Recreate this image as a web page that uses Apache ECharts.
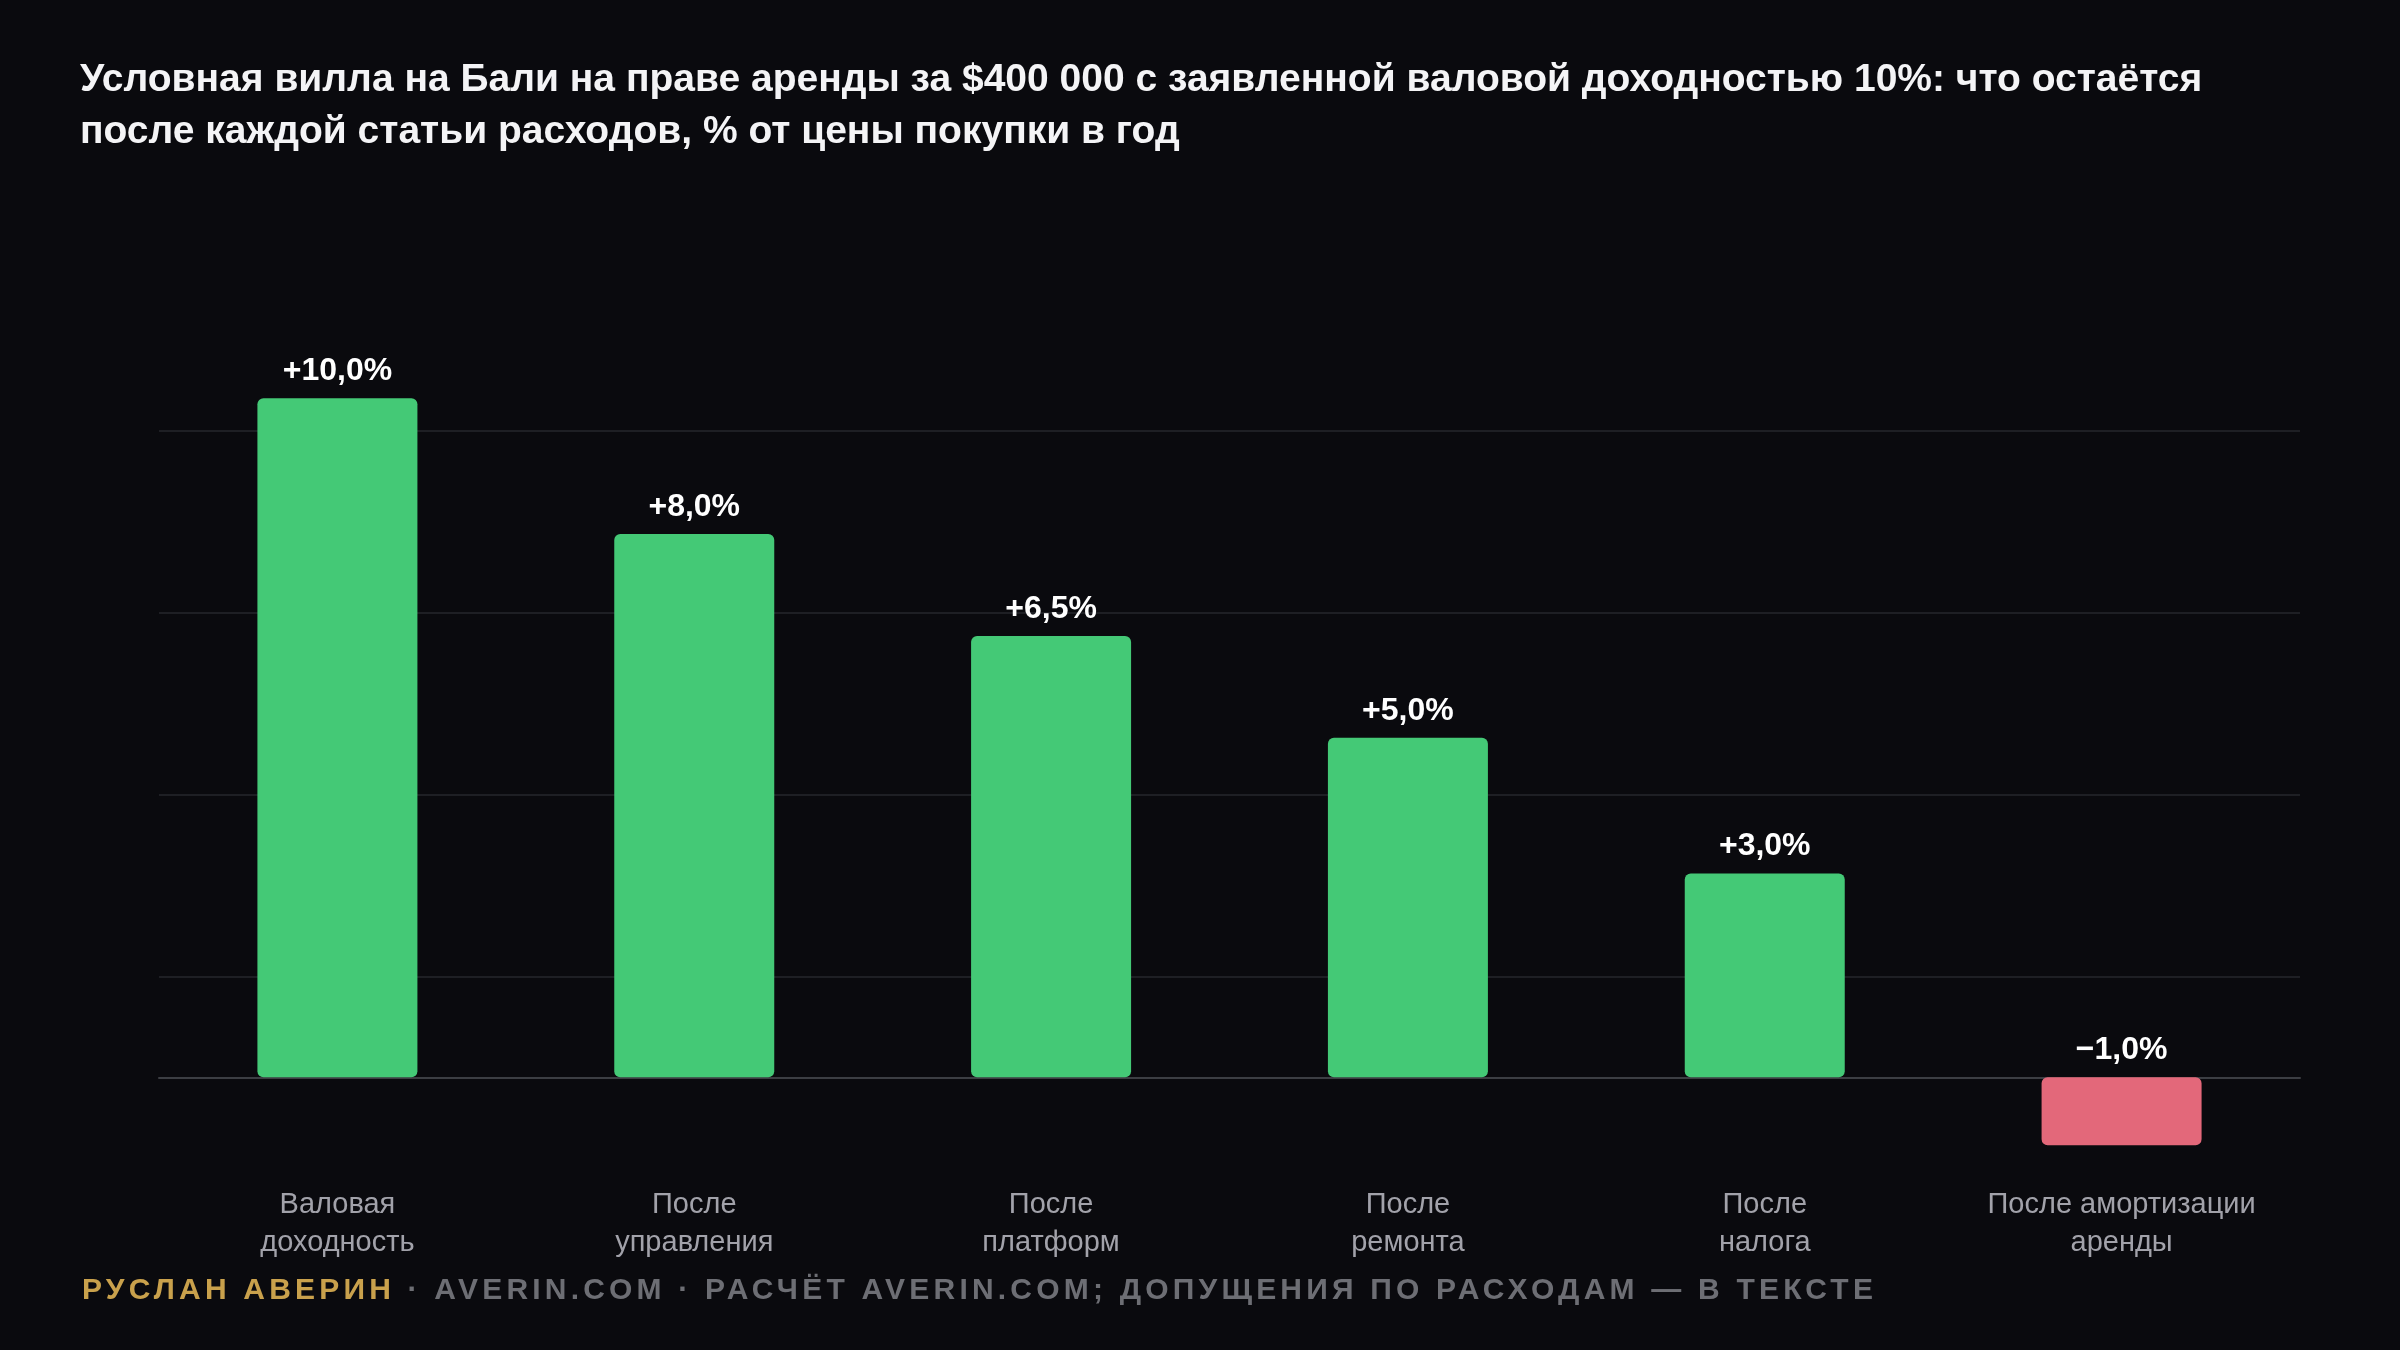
<!DOCTYPE html>
<html>
<head>
<meta charset="utf-8">
<script src="https://cdn.jsdelivr.net/npm/echarts@6/dist/echarts.min.js"></script>
<style>
html,body{margin:0;padding:0;background:#0a0a0e;}
#chart{width:2400px;height:1350px;}
</style>
</head>
<body>
<div id="chart"></div>
<script>
// ---- data ----
var categories = ['Валовая\nдоходность', 'После\nуправления', 'После\nплатформ', 'После\nремонта', 'После\nналога', 'После амортизации\nаренды'];
var values = [10.0, 8.0, 6.5, 5.0, 3.0, -1.0];
var titleText = 'Условная вилла на Бали на праве аренды за $400 000 с заявленной валовой доходностью 10%: что остаётся\nпосле каждой статьи расходов, % от цены покупки в год';
var footerAuthor = 'РУСЛАН АВЕРИН';
var footerRest = ' · AVERIN.COM · РАСЧЁТ AVERIN.COM; ДОПУЩЕНИЯ ПО РАСХОДАМ — В ТЕКСТЕ';

// letter-spacing for the tracked footer font (canvas text)
(function () {
  var P = CanvasRenderingContext2D.prototype;
  ['fillText', 'strokeText', 'measureText'].forEach(function (name) {
    var orig = P[name];
    P[name] = function () {
      if (this.font && this.font.indexOf('TrackedFooter') >= 0) {
        var prev = this.letterSpacing;
        this.letterSpacing = '4.2px';
        var r = orig.apply(this, arguments);
        this.letterSpacing = prev;
        return r;
      }
      return orig.apply(this, arguments);
    };
  });
})();

function fmt(v) {
  var s = Math.abs(v).toFixed(1).replace('.', ',');
  return (v < 0 ? '\u2212' : '+') + s + '%';
}

var chart = echarts.init(document.getElementById('chart'), null, {renderer: 'canvas'});
var FONT = '"Liberation Sans", Arial, sans-serif';
var FOOTFONT = '"Liberation Sans", TrackedFooter';

chart.setOption({
  backgroundColor: '#0a0a0e',
  animation: false,
  title: [{
    text: titleText,
    left: 80, top: 54, padding: 0,
    textStyle: {color: '#f4f4f6', fontFamily: FONT, fontWeight: 'bold', fontSize: 39, lineHeight: 52}
  }, {
    text: '{a|' + footerAuthor + '}{b|' + footerRest + '}',
    left: 82, top: 1271, padding: 0,
    textStyle: {
      lineHeight: 40,
      rich: {
        a: {color: '#c9a14c', fontFamily: FOOTFONT, fontWeight: 'bold', fontSize: 30, lineHeight: 40},
        b: {color: '#6d6e74', fontFamily: FOOTFONT, fontWeight: 'bold', fontSize: 30, lineHeight: 40}
      }
    }
  }],
  grid: {left: 159, right: 100, top: 248.8, bottom: 191.2, containLabel: false},
  xAxis: {
    type: 'category',
    data: categories,
    axisLine: {show: true, onZero: true, lineStyle: {color: '#3c3e43', width: 2}},
    axisTick: {show: false},
    splitLine: {show: false},
    axisLabel: {color: '#a2a2aa', fontFamily: FONT, fontSize: 29, lineHeight: 38, margin: 27, interval: 0}
  },
  yAxis: [{
    type: 'value', min: -1.2, max: 12.2,
    axisLine: {show: false}, axisTick: {show: false}, axisLabel: {show: false},
    splitLine: {show: false}
  }, {
    type: 'value', min: 0, max: 5, interval: 1, position: 'left',
    axisLine: {show: false}, axisTick: {show: false}, axisLabel: {show: false},
    splitLine: {show: true, showMinLine: false, showMaxLine: false, lineStyle: {color: '#1e1f24', width: 2}}
  }],
  series: [{
    type: 'bar',
    yAxisIndex: 0,
    data: values,
    barWidth: 160,
    itemStyle: {
      borderRadius: 6,
      color: function (p) { return p.value < 0 ? '#e3687a' : '#44c976'; }
    },
    label: {
      show: true, position: 'top', distance: 11,
      color: '#ffffff', fontFamily: FONT, fontWeight: 'bold', fontSize: 32,
      formatter: function (p) { return fmt(p.value); }
    }
  }]
});
</script>
</body>
</html>
